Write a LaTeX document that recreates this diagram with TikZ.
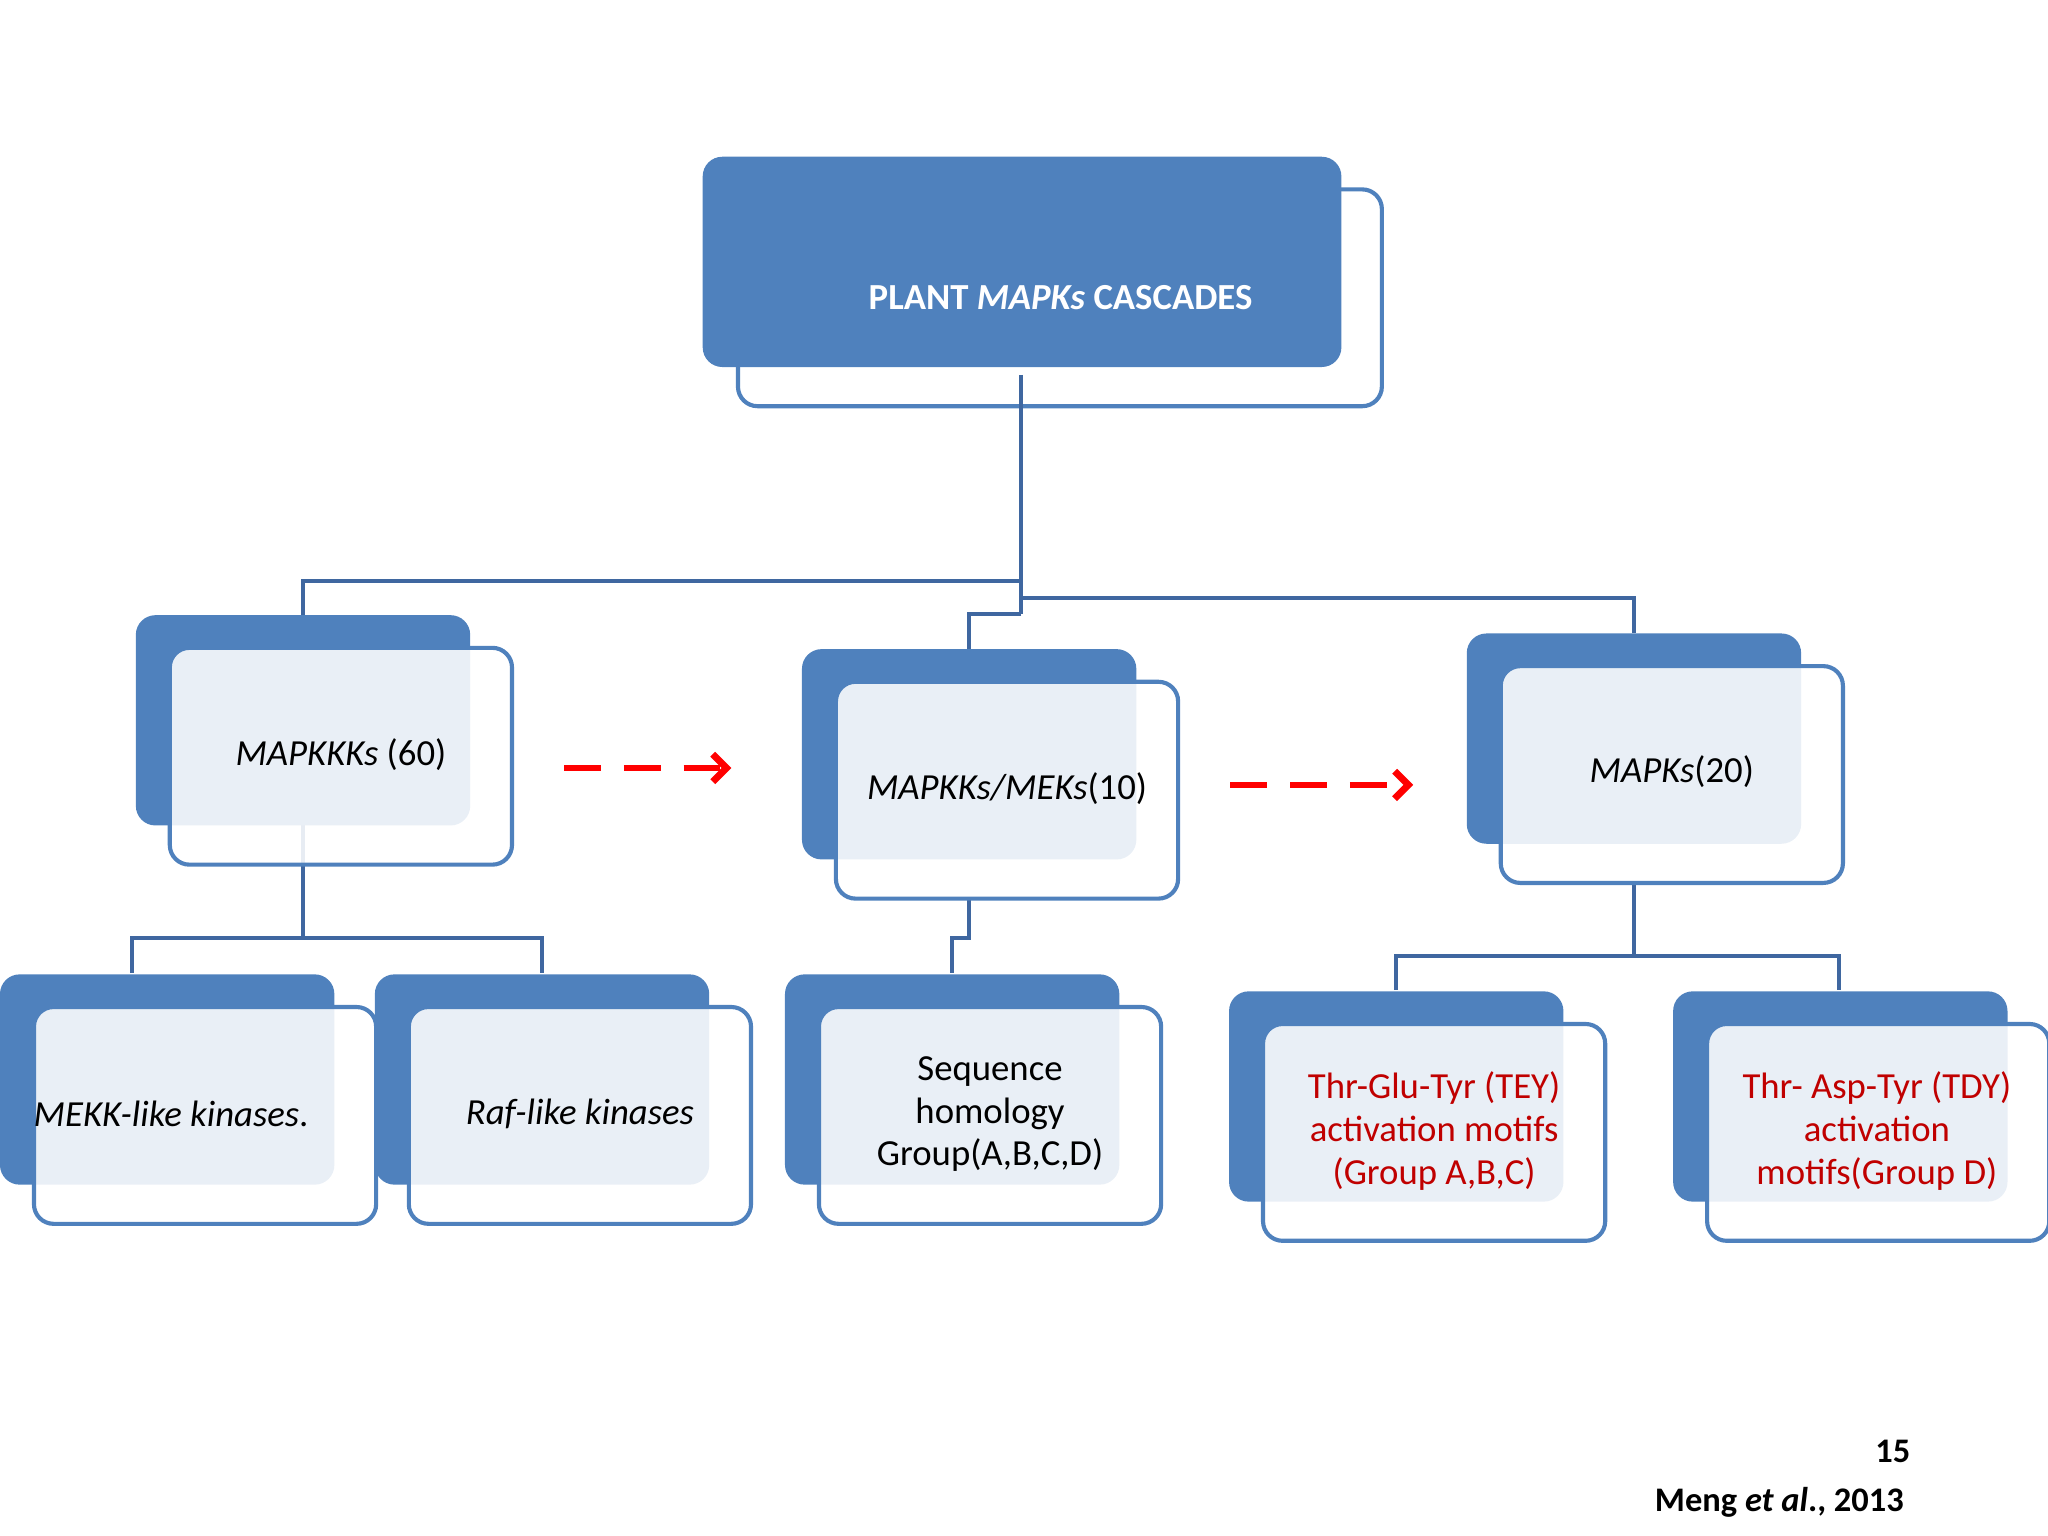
\documentclass[tikz,border=0pt]{standalone}
\usepackage{fontspec}
\setmainfont{Carlito}
\usetikzlibrary{arrows.meta}
\definecolor{bl}{HTML}{4F81BD}
\definecolor{ln}{HTML}{3F67A0}
\definecolor{rd}{HTML}{C00000}
\begin{document}
\begin{tikzpicture}[x=0.01cm,y=-0.01cm,
  filled/.style={fill=bl,rounded corners=1.5mm},
  outl/.style={draw=bl,line width=0.9pt,fill=white,fill opacity=0.88,rounded corners=1.5mm},
  conn/.style={draw=ln,line width=0.9pt},
  txt/.style={font=\fontsize{8}{9.3}\selectfont,align=center},
  arr/.style={draw=red,line width=1.5pt,dash pattern=on 8pt off 5pt,-{Straight Barb[length=3pt,width=6pt]}}]
\useasboundingbox (0,0) rectangle (1568,1176);
% top
\draw[outl,fill opacity=1] (565,145) rectangle (1058,311);
\fill[filled] (538,120) rectangle (1027,281);
\node[txt,text=white,font=\fontsize{8}{9.3}\selectfont\bfseries] (top) at (812,228) {PLANT \textit{MAPKs} CASCADES};
% connectors
\coordinate (t0) at (782,287);
\coordinate (t1) at (782,470);
\draw[conn] (t0) -- (t1);
\draw[conn] (782,445) -- (232,445) -- (232,472);
\draw[conn] (782,458) -- (1251,458) -- (1251,485);
\draw[conn] (782,470) -- (742,470) -- (742,497);
\draw[conn] (232,632) -- (232,718);
\draw[conn] (101,745) -- (101,718) -- (415,718) -- (415,745);
\draw[conn] (742,688) -- (742,718) -- (729,718) -- (729,745);
\draw[conn] (1251,676) -- (1251,732);
\draw[conn] (1069,758) -- (1069,732) -- (1408,732) -- (1408,758);
% mid boxes
\foreach \x/\y in {104/471,614/497,1123/485,0/746,287/746,601/746,941/759,1281/759}{
  \fill[filled] (\x,\y) rectangle ++(256,161);
  \draw[outl] (\x+26,\y+25) rectangle ++(262,166);
}
\fill[white] (-5,740) rectangle (0,960);
\node[txt] (a) at (261,578) {\textit{MAPKKKs} (60)};
\node[txt] (b) at (771,604) {\textit{MAPKKs/MEKs}(10)};
\node[txt] (c) at (1280,591) {\textit{MAPKs}(20)};
\node[txt] (d) at (131,853) {\textit{MEKK-like kinases}.};
\node[txt] (e) at (444,853) {\textit{Raf-like kinases}};
\node[txt] (f) at (758,853) {Sequence\\homology\\Group(A,B,C,D)};
\node[txt,text=rd] (g) at (1098,866) {Thr-Glu-Tyr (TEY)\\activation motifs\\(Group A,B,C)};
\node[txt,text=rd] (h) at (1437,866) {Thr- Asp-Tyr (TDY)\\activation\\motifs(Group D)};
\coordinate (r1) at (432,588); \coordinate (r2) at (560,588);
\coordinate (r3) at (942,601); \coordinate (r4) at (1082,601);
\draw[arr] (r1) -- (r2);
\draw[arr] (r3) -- (r4);
\node[txt,anchor=east,font=\fontsize{7.5}{9}\selectfont\bfseries] (p) at (1475,1111) {15};
\node[txt,anchor=east,font=\fontsize{7.5}{9}\selectfont\bfseries] (m) at (1470,1150) {Meng \textit{et al}., 2013};
\end{tikzpicture}
\end{document}
